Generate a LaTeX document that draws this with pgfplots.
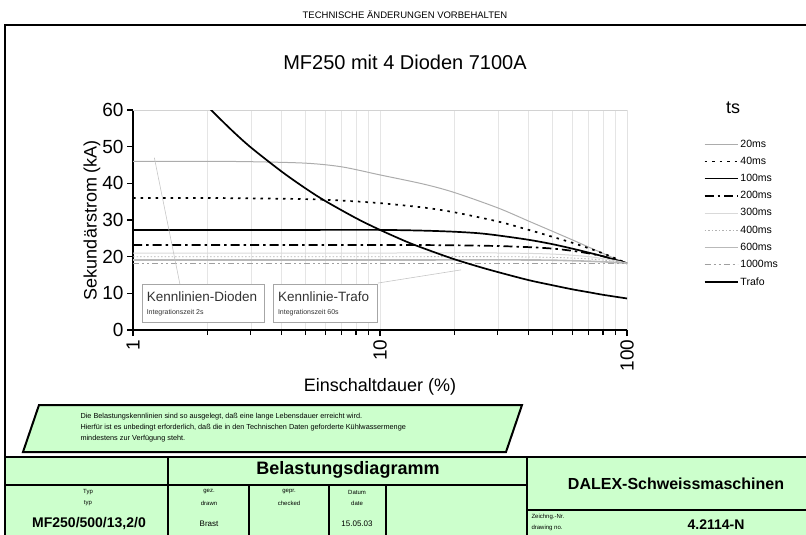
\documentclass[border=0pt]{standalone}
\usepackage{pgfplots}
\pgfplotsset{compat=1.18}
\usepackage{fontspec}
\setmainfont{Liberation Sans}
\definecolor{notegreen}{HTML}{CCFFCC}
\pgfplotstableread{
x y
1 46.0
2 46.0
3 45.9
5 45.5
7 44.5
10 42.3
15 39.8
20 37.5
30 33.3
40 29.7
50 26.9
60 24.6
70 22.6
80 20.9
90 19.4
100 18.2
}\tA
\pgfplotstableread{
x y
1 36.0
2 36.0
3 35.9
5 35.7
7 35.3
10 34.6
15 33.4
20 32.1
30 29.6
40 27.3
50 25.4
60 23.8
70 22.3
80 20.9
90 19.5
100 18.2
}\tB
\pgfplotstableread{
x y
1 27.3
5 27.3
10 27.3
15 27.1
20 26.8
25 26.4
30 25.8
40 24.6
50 23.4
60 22.2
70 21.1
80 20.1
90 19.1
100 18.2
}\tC
\pgfplotstableread{
x y
1 23.2
10 23.2
20 23.1
30 22.9
40 22.6
50 22.2
60 21.6
70 20.9
80 20.1
90 19.2
100 18.2
}\tD
\pgfplotstableread{
x y
1 21.0
10 21.0
30 21.0
50 20.7
70 20.0
90 18.9
100 18.2
}\tE
\pgfplotstableread{
x y
1 20.0
10 20.0
30 20.0
50 19.8
70 19.4
90 18.7
100 18.2
}\tF
\pgfplotstableread{
x y
1 19.1
10 19.1
40 19.1
60 18.9
80 18.6
100 18.2
}\tG
\pgfplotstableread{
x y
1 18.1
10 18.1
100 18.1
}\tH
\pgfplotstableread{
x y
2 61.0
2.5 54.6
3 49.8
4 43.2
5 38.6
6 35.2
8 30.5
10 27.3
13 23.9
16 21.6
20 19.3
25 17.3
30 15.8
40 13.6
50 12.2
60 11.1
70 10.3
80 9.6
100 8.6
}\tT
\begin{document}
\begin{tikzpicture}
\begin{scope}[x=1pt,y=-1pt]
\useasboundingbox (0,0) rectangle (806,535);
\node[font=\fontsize{9.5}{10}\selectfont] at (405,15) {TECHNISCHE ÄNDERUNGEN VORBEHALTEN};
\draw[line width=2pt] (5,535) -- (5,25) -- (806,25);
\node[font=\fontsize{20}{22}\selectfont] at (405,62) {MF250 mit 4 Dioden 7100A};
\node[font=\fontsize{18}{20}\selectfont] at (733,108) {ts};
% note parallelogram
\draw[line width=2pt, fill=notegreen] (39,405) -- (522,405) -- (506,452) -- (23,452) -- cycle;
\node[font=\fontsize{7.3}{8}\selectfont, anchor=west] at (77,417) {Die Belastungskennlinien sind so ausgelegt, daß eine lange Lebensdauer erreicht wird.};
\node[font=\fontsize{7.3}{8}\selectfont, anchor=west] at (77,428) {Hierfür ist es unbedingt erforderlich, daß die in den Technischen Daten geforderte Kühlwassermenge};
\node[font=\fontsize{7.3}{8}\selectfont, anchor=west] at (77,439) {mindestens zur Verfügung steht.};
% table
\fill[notegreen] (6,457) rectangle (806,535);
\draw[line width=2pt] (5,457) -- (806,457);
\draw[line width=1.6pt] (168,457) -- (168,535);
\draw[line width=1.6pt] (527,457) -- (527,535);
\draw[line width=1.6pt] (5,485) -- (527,485);
\draw[line width=1.4pt] (249,485) -- (249,535);
\draw[line width=1.4pt] (329,485) -- (329,535);
\draw[line width=1.4pt] (386,485) -- (386,535);
\draw[line width=1.4pt] (527,510) -- (806,510);
\node[font=\fontsize{18}{20}\selectfont\bfseries] at (348,470) {Belastungsdiagramm};
\node[font=\fontsize{16}{18}\selectfont\bfseries] at (676,484) {DALEX-Schweissmaschinen};
\node[font=\fontsize{14}{16}\selectfont\bfseries] at (716,525) {4.2114-N};
\node[font=\fontsize{14}{16}\selectfont\bfseries] at (89,524) {MF250/500/13,2/0};
\node[font=\fontsize{6}{7}\selectfont] at (88,492) {Typ};
\node[font=\fontsize{6}{7}\selectfont] at (88,503) {typ};
\node[font=\fontsize{6}{7}\selectfont] at (209,492) {gez.};
\node[font=\fontsize{6}{7}\selectfont] at (209,503) {drawn};
\node[font=\fontsize{6}{7}\selectfont] at (289,492) {gepr.};
\node[font=\fontsize{6}{7}\selectfont] at (289,503) {checked};
\node[font=\fontsize{6}{7}\selectfont] at (357,492) {Datum};
\node[font=\fontsize{6}{7}\selectfont] at (357,503) {date};
\node[font=\fontsize{8}{9}\selectfont] at (209,524) {Brast};
\node[font=\fontsize{8}{9}\selectfont] at (357,524) {15.05.03};
\node[font=\fontsize{6}{7}\selectfont, anchor=west] at (528,517) {Zeichng.-Nr.};
\node[font=\fontsize{6}{7}\selectfont, anchor=west] at (528,528) {drawing no.};
\end{scope}
\begin{axis}[
  at={(133pt,-330pt)}, anchor=south west,
  width=494pt, height=220pt, scale only axis,
  xmode=log, xmin=1, xmax=100, ymin=0, ymax=60,
  axis x line*=bottom, axis y line*=left,
  axis line style={line width=1.3pt, black, -},
  ytick={0,10,...,60},
  xtick={1,10,100}, xticklabels={1,10,100},
  minor xtick={2,3,4,5,6,7,8,9,20,30,40,50,60,70,80,90},
  tick align=outside,
  major tick length=6pt, minor tick length=5pt,
  tick style={line width=1.2pt, black},
  xmajorgrids, xminorgrids,
  major grid style={gray!20, line width=0.6pt},
  minor grid style={gray!20, line width=0.6pt},
  /pgf/number format/assume math mode=true,
  tick label style={font=\fontsize{19}{19}\selectfont},
  xticklabel style={rotate=90, anchor=east},
  xlabel={Einschaltdauer (\%)}, ylabel={Sekundärstrom (kA)},
  label style={font=\fontsize{18}{18}\selectfont},
  x label style={at={(axis description cs:0.5,-0.26)}, anchor=center},
  y label style={at={(axis description cs:-0.083,0.5)}, anchor=center},
  legend image code/.code={\draw[#1] (0pt,0pt) -- (33pt,0pt);},
  legend style={at={(axis description cs:1.155,0.875)}, anchor=north west, draw=none, fill=none,
    font=\fontsize{10.5}{10.5}\selectfont, row sep=4.4pt, inner sep=0pt},
  legend cell align=left,
]
\draw[gray!35, line width=1pt] (axis cs:1,60) -- (axis cs:100,60) -- (axis cs:100,0);
\addplot[gray!65, line width=1pt, smooth] table {\tA};
\addlegendentry{20ms}
\addplot[black, line width=1.7pt, smooth, dash pattern=on 2.5pt off 5pt] table {\tB};
\addlegendentry{40ms}
\addplot[black, line width=1.7pt, smooth] table {\tC};
\addlegendentry{100ms}
\addplot[black, line width=1.7pt, smooth, dash pattern=on 9pt off 4pt on 2.5pt off 4pt] table {\tD};
\addlegendentry{200ms}
\addplot[gray!30, line width=1pt, smooth] table {\tE};
\addlegendentry{300ms}
\addplot[gray!60, line width=0.8pt, smooth, dash pattern=on 1.5pt off 2pt] table {\tF};
\addlegendentry{400ms}
\addplot[gray!55, line width=1.6pt, smooth] table {\tG};
\addlegendentry{600ms}
\addplot[gray!75, line width=1.4pt, dash pattern=on 6pt off 3pt on 2pt off 3pt on 2pt off 3pt] table {\tH};
\addlegendentry{1000ms}
\addplot[black, line width=1.7pt, smooth] table {\tT};
\addlegendentry{Trafo}
\draw[gray!45, line width=0.6pt] (axis cs:1.22,47) -- (axis cs:1.55,12.4);
\draw[gray!45, line width=0.6pt] (axis cs:9.8,12.8) -- (axis cs:21.3,16.4);
\draw[gray!70, line width=0.8pt, fill=white] (axis cs:1.09,2.1) rectangle (axis cs:3.39,12.4);
\draw[gray!70, line width=0.8pt, fill=white] (axis cs:3.71,2.1) rectangle (axis cs:9.8,12.4);
\node[anchor=west, font=\fontsize{13.5}{14}\selectfont, text=black!80] at (axis cs:1.1,9.0) {Kennlinien-Dioden};
\node[anchor=west, font=\fontsize{7}{8}\selectfont, text=black!80] at (axis cs:1.1,4.6) {Integrationszeit 2s};
\node[anchor=west, font=\fontsize{13.5}{14}\selectfont, text=black!80] at (axis cs:3.74,9.0) {Kennlinie-Trafo};
\node[anchor=west, font=\fontsize{7}{8}\selectfont, text=black!80] at (axis cs:3.74,4.6) {Integrationszeit 60s};
\end{axis}
\end{tikzpicture}
\end{document}
